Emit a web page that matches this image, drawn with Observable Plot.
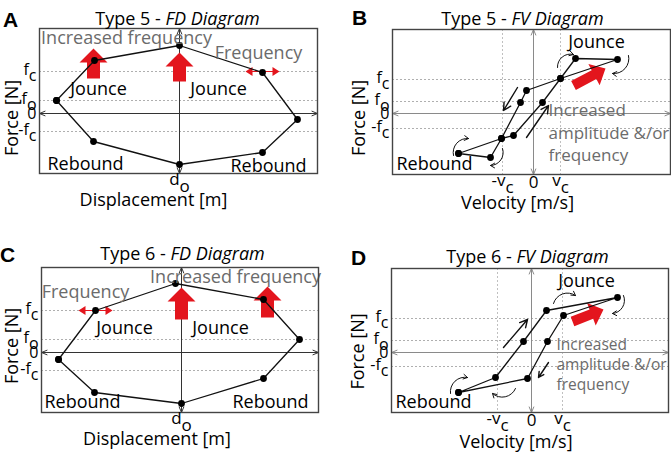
<!DOCTYPE html>
<html><head><meta charset="utf-8">
<script src="https://cdn.jsdelivr.net/npm/d3@7"></script>
<script src="https://cdn.jsdelivr.net/npm/@observablehq/plot@0.6"></script>
<style>
body{margin:0;background:#fff;}
#fig{position:relative;width:671px;height:458px;overflow:hidden;background:#fff;}
#fig svg{position:absolute;}
</style></head><body><div id="fig"></div>
<script>
// ---------- Panel A : Type 5 - FD diagram ----------
const aLoop = [[-123,13],[-85,53],[0,68],[83,41],[118,-6],[83,-39],[0,-51],[-86,-28],[-123,13]];
const aYTicks = [42,13,0,-18];
const aYTickLabels = ["f_c","f_o","0","-f_c"];
const aXTicks = [0];
const aXTickLabels = ["d_o"];
const aRedArrows = [[-86,35,-86,65],[0,32,0,61]];
const aFreqArrows = [[83,42]];
const aBlackLabels = [["Jounce",-81,24],["Jounce",39,24],["Rebound",-94,-51],["Rebound",89,-53]];
const aGrayLabels = [["Increased frequency",-53,75],["Frequency",79,60]];

// ---------- Panel B : Type 5 - FV diagram ----------
const bLoop = [[-75,-40],[-43,-44],[-32,-25],[-13,11],[-7,23],[27,35],[84,54],[42,55],[27,35],[9,11],[-20,-22],[-32,-25],[-75,-40]];
const bYTicks = [34,12,0,-15];
const bYTickLabels = ["f_c","f_o","0","-f_c"];
const bXTicks = [-31,0,27];
const bXTickLabels = ["-v_c","0","v_c"];
const bRedArrows = [[40,28,72,45]];
const bCurvedArrows = [[24,46,40,59],[95,58,79,40],[-80,-42,-65,-25],[-31,-35,-43,-52]];
const bStraightArrows = [[-16,26,-30,3],[-7,-24,15,8]];
const bBlackLabels = [["Jounce",63,71],["Rebound",-99,-51]];
const bGrayLabels = [["Increased\namplitude &/or\nfrequency",15,-18]];

// ---------- Panel C : Type 6 - FD diagram ----------
const cLoop = [[-123,-7],[-86,42],[-6,69],[82,53],[118,13],[82,-26],[0,-51],[-87,-40],[-123,-7]];
const cYTicks = [42,13,0,-18];
const cYTickLabels = ["f_c","f_o","0","-f_c"];
const cXTicks = [0];
const cXTickLabels = ["d_o"];
const cRedArrows = [[0,33,0,65],[86,35,86,66]];
const cFreqArrows = [[-86,42]];
const cBlackLabels = [["Jounce",-57,24],["Jounce",39,24],["Rebound",-99,-50],["Rebound",89,-50]];
const cGrayLabels = [["Frequency",-96,60],["Increased frequency",54,75]];

// ---------- Panel D : Type 6 - FV diagram ----------
const dLoop = [[-73,-40],[-36,-25],[-8,11],[15,42],[86,55],[32,37],[16,11],[-4,-26],[-73,-40]];
const dYTicks = [34,12,0,-14];
const dYTickLabels = ["f_c","f_o","0","-f_c"];
const dXTicks = [-34,0,31];
const dXTickLabels = ["-v_c","0","v_c"];
const dRedArrows = [[41,31,72,43]];
const dCurvedArrows = [[22,49,44,57],[92,57,81,39],[-81,-41,-64,-25],[-16,-36,-39,-41]];
const dStraightArrows = [[-28,5,-4,33],[17,-10,7,-25]];
const dBlackLabels = [["Jounce",55,71],["Rebound",-98,-50]];
const dGrayLabels = [["Increased\namplitude &/or\nfrequency",25,-11]];

// ---------- rendering ----------
const RED = "#e3151d", GRAY = "#6b6b6b", FONT = "Open Sans";

function blockArrow(a, id, sw, hw, hl) {
  const [x1,y1,x2,y2] = a;
  const dx = x2-x1, dy = y2-y1, L = Math.hypot(dx,dy), ux = dx/L, uy = dy/L, nx = -uy, ny = ux;
  const kx = x2-ux*hl, ky = y2-uy*hl;
  return [[x1+nx*sw,y1+ny*sw],[kx+nx*sw,ky+ny*sw],[kx+nx*hw,ky+ny*hw],[x2,y2],
          [kx-nx*hw,ky-ny*hw],[kx-nx*sw,ky-ny*sw],[x1-nx*sw,y1-ny*sw]].map(p => ({x:p[0],y:p[1],id}));
}

function richText(svg) {
  d3.select(svg).selectAll("text").each(function() {
    if (this.querySelector("tspan")) return;
    const t = this.textContent, el = d3.select(this);
    if (t.includes("|")) {
      const [a,b] = t.split("|"); el.text(null);
      el.append("tspan").text(a); el.append("tspan").attr("font-style","italic").text(b);
    } else if (t.includes("_")) {
      const [a,b] = t.split("_"); el.text(null);
      el.append("tspan").attr("dy","-0.12em").text(a); el.append("tspan").attr("dy","0.42em").text(b);
    }
  });
}

function panel(c) {
  const [xd0,xd1] = c.xDomain, [yd0,yd1] = c.yDomain;
  const axisSegs = [[0,0,xd0,0],[0,0,xd1,0],[0,0,0,yd1],[0,0,0,yd0]];
  let polys = [];
  (c.red||[]).forEach((a,i) => polys = polys.concat(blockArrow(a,"r"+i,c.redSW,c.redHW,c.redHL)));
  (c.freq||[]).forEach((f,i) => {
    polys = polys.concat(blockArrow([f[0],f[1],f[0]-17,f[1]],"fl"+i,0.6,4.5,7));
    polys = polys.concat(blockArrow([f[0],f[1],f[0]+17,f[1]],"fr"+i,0.6,4.5,7));
  });
  const yMap = new Map(c.yTicks.map((t,i)=>[t,c.yLabels[i]]));
  const xMap = new Map(c.xTicks.map((t,i)=>[t,c.xLabels[i]]));
  const marks = [
    Plot.ruleY(c.yTicks.filter(d=>d!==0), {stroke:"#9a9a9a", strokeDasharray:"2,2", strokeWidth:0.8}),
    c.vgrid ? Plot.ruleX(c.vgrid, {stroke:"#b0b0b0", strokeDasharray:"2,2", strokeWidth:0.8}) : null,
    Plot.arrow(axisSegs, {x1:d=>d[0],y1:d=>d[1],x2:d=>d[2],y2:d=>d[3], stroke:c.axisColor, strokeWidth:1, headLength:9, headAngle:45}),
    Plot.line(polys, {x:"x", y:"y", z:"id", fill:RED, stroke:"none"}),
    Plot.line(c.loop, {x:d=>d[0], y:d=>d[1], stroke:"#111", strokeWidth:1.3}),
    Plot.dot(c.loop, {x:d=>d[0], y:d=>d[1], r:3.4, fill:"#000"}),
    c.curved ? Plot.arrow(c.curved, {x1:d=>d[0],y1:d=>d[1],x2:d=>d[2],y2:d=>d[3], bend:c.bend, stroke:"#111", strokeWidth:1, headLength:7, headAngle:60}) : null,
    c.straight ? Plot.arrow(c.straight, {x1:d=>d[0],y1:d=>d[1],x2:d=>d[2],y2:d=>d[3], stroke:"#111", strokeWidth:1.4, headLength:9, headAngle:55}) : null,
    Plot.text(c.black, {x:d=>d[1], y:d=>d[2], text:d=>d[0], fill:"#000", fontSize:18}),
    Plot.text(c.gray, {x:d=>d[1], y:d=>d[2], text:d=>d[0], fill:GRAY, fontSize:c.grayFont, textAnchor:c.grayAnchor, lineHeight:c.grayLH}),
    Plot.frame({stroke:"#444", strokeWidth:1.4}),
    Plot.axisY({ticks:c.yTicks, tickFormat:d=>yMap.get(d), tickSize:0, tickPadding:3, fontSize:16, label:null}),
    Plot.axisX({ticks:c.xTicks, tickFormat:d=>xMap.get(d), tickSize:0, tickPadding:1, fontSize:17, label:null}),
    Plot.text([c.title], {frameAnchor:"top-left", dx:c.titlePos[0], dy:c.titlePos[1], textAnchor:"middle", text:d=>d, fontSize:18}),
    Plot.text([c.letter], {frameAnchor:"top-left", dx:c.letterPos[0], dy:c.letterPos[1], textAnchor:"middle", text:d=>d, fontSize:21, fontWeight:"bold", fontFamily:"Liberation Sans"}),
    Plot.text([c.ylabel], {frameAnchor:"left", dx:c.ylabelPos[0], dy:c.ylabelPos[1], textAnchor:"middle", rotate:-90, text:d=>d, fontSize:18}),
    Plot.text([c.xlabel], {frameAnchor:"bottom", dx:c.xlabelPos[0], dy:c.xlabelPos[1], textAnchor:"middle", text:d=>d, fontSize:18})
  ].filter(Boolean);
  const svg = Plot.plot({
    width:c.width, height:229,
    marginLeft:c.m[0], marginRight:c.m[1], marginTop:c.m[2], marginBottom:c.m[3],
    x:{domain:c.xDomain}, y:{domain:c.yDomain},
    style:{fontFamily:FONT, fontSize:"17px", background:"transparent", color:"#000", overflow:"visible"},
    marks
  });
  richText(svg);
  svg.style.left = c.left+"px"; svg.style.top = c.top+"px";
  document.getElementById("fig").appendChild(svg);
}

panel({left:0, top:0, width:335, m:[39,18,28,56], xDomain:[-140,138], yDomain:[-60,85],
  loop:aLoop, yTicks:aYTicks, yLabels:aYTickLabels, xTicks:aXTicks, xLabels:aXTickLabels,
  red:aRedArrows, redSW:6.5, redHW:14, redHL:14, freq:aFreqArrows, axisColor:"#333",
  black:aBlackLabels, gray:aGrayLabels, grayFont:18, grayAnchor:"middle", grayLH:1,
  title:"Type 5 - |FD Diagram", titlePos:[138,-16], letter:"A", letterPos:[-29,-16],
  ylabel:"Force [N]", ylabelPos:[-27,17], xlabel:"Displacement [m]", xlabelPos:[-25,32]});

panel({left:335, top:0, width:336, m:[57,1,29,55], xDomain:[-141,137], yDomain:[-61,84],
  loop:bLoop, yTicks:bYTicks, yLabels:bYTickLabels, xTicks:bXTicks, xLabels:bXTickLabels, vgrid:bXTicks.filter(d=>d!==0),
  red:bRedArrows, redSW:5, redHW:12, redHL:13, axisColor:"#8a8a8a",
  curved:bCurvedArrows, bend:55, straight:bStraightArrows,
  black:bBlackLabels, gray:bGrayLabels, grayFont:17, grayAnchor:"start", grayLH:1.32,
  title:"Type 5 - |FV Diagram", titlePos:[130,-17], letter:"B", letterPos:[-33,-19],
  ylabel:"Force [N]", ylabelPos:[-33,16], xlabel:"Velocity [m/s]", xlabelPos:[-14,34]});

panel({left:0, top:229, width:335, m:[41,17,38,46], xDomain:[-140,137], yDomain:[-60,85],
  loop:cLoop, yTicks:cYTicks, yLabels:cYTickLabels, xTicks:cXTicks, xLabels:cXTickLabels,
  red:cRedArrows, redSW:6.5, redHW:14, redHL:14, freq:cFreqArrows, axisColor:"#333",
  black:cBlackLabels, gray:cGrayLabels, grayFont:18, grayAnchor:"middle", grayLH:1,
  title:"Type 6 - |FD Diagram", titlePos:[141,-20], letter:"C", letterPos:[-34,-20],
  ylabel:"Force [N]", ylabelPos:[-29,6], xlabel:"Displacement [m]", xlabelPos:[-23,32]});

panel({left:335, top:229, width:336, m:[56,3,39,46], xDomain:[-140,137], yDomain:[-60,84],
  loop:dLoop, yTicks:dYTicks, yLabels:dYTickLabels, xTicks:dXTicks, xLabels:dXTickLabels, vgrid:dXTicks.filter(d=>d!==0),
  red:dRedArrows, redSW:5, redHW:12, redHL:13, axisColor:"#8a8a8a",
  curved:dCurvedArrows, bend:55, straight:dStraightArrows,
  black:dBlackLabels, gray:dGrayLabels, grayFont:15.5, grayAnchor:"start", grayLH:1.3,
  title:"Type 6 - |FV Diagram", titlePos:[136,-18], letter:"D", letterPos:[-33,-18],
  ylabel:"Force [N]", ylabelPos:[-33,11], xlabel:"Velocity [m/s]", xlabelPos:[-14,35]});
</script></body></html>
